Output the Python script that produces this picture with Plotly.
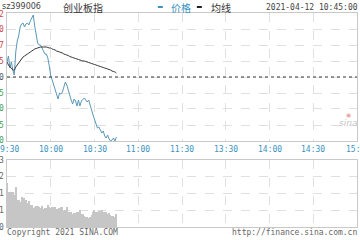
import plotly.graph_objects as go

# ---------------- data ----------------
prev_close = 2710.00
minutes = list(range(76))  # minutes since 09:30
price = [2723.46, 2728.84, 2718.07, 2723.46, 2716.28, 2711.79, 2732.43, 2742.29, 2746.78, 2754.85,
         2757.54, 2758.44, 2754.85, 2757.54, 2758.44, 2756.64, 2760.23, 2762.92, 2765.61, 2755.75,
         2746.78, 2740.50, 2738.70, 2738.70, 2736.01, 2733.32, 2730.63, 2730.63, 2727.04, 2719.87,
         2710.90, 2707.31, 2702.82, 2698.34, 2692.96, 2690.27, 2695.65, 2694.75, 2696.54, 2701.93,
         2705.51, 2702.82, 2697.44, 2692.96, 2689.37, 2685.78, 2690.27, 2688.47, 2683.99, 2689.37,
         2683.99, 2688.47, 2690.27, 2691.16, 2689.37, 2687.57, 2689.37, 2685.78, 2680.40, 2675.91,
         2671.43, 2666.94, 2664.25, 2665.15, 2662.46, 2659.77, 2661.56, 2657.08, 2655.28, 2657.97,
         2654.39, 2652.59, 2653.49, 2655.28, 2652.59, 2656.18]
avg_line = [2723.46, 2720.76, 2718.97, 2718.07, 2716.28, 2716.28, 2718.97, 2720.76, 2722.56, 2724.35,
            2726.15, 2727.94, 2728.84, 2729.73, 2730.63, 2731.53, 2732.43, 2733.32, 2734.22, 2735.12,
            2735.56, 2736.01, 2736.46, 2736.91, 2736.91, 2736.91, 2736.91, 2736.91, 2736.46, 2736.01,
            2736.01, 2735.12, 2734.67, 2734.22, 2733.32, 2732.87, 2732.43, 2731.98, 2731.53, 2730.63,
            2730.18, 2729.73, 2729.29, 2728.39, 2727.94, 2727.49, 2727.04, 2726.59, 2726.15, 2725.70,
            2725.25, 2724.80, 2724.35, 2724.35, 2723.90, 2723.46, 2723.01, 2722.56, 2722.11, 2721.66,
            2721.21, 2720.76, 2720.32, 2719.87, 2719.42, 2718.97, 2718.52, 2718.07, 2717.62, 2717.17,
            2716.73, 2716.28, 2715.38, 2714.93, 2714.49, 2713.59]
volume = [921, 733, 733, 733, 733, 670, 838, 565, 565, 524,
          628, 461, 607, 565, 503, 544, 461, 461, 398, 419,
          440, 440, 419, 398, 440, 377, 398, 398, 461, 419,
          398, 419, 419, 419, 377, 377, 398, 419, 419, 335,
          356, 419, 314, 314, 314, 272, 293, 293, 314, 314,
          356, 272, 272, 230, 209, 209, 188, 209, 251, 314,
          356, 314, 314, 335, 335, 356, 314, 314, 314, 272,
          293, 251, 230, 230, 209, 272]

tick_minutes = [0, 30, 60, 90, 120, 150, 180, 210, 240]
tick_labels = ["9:30", "10:00", "10:30", "11:00", "11:30", "13:30", "14:00", "14:30", "15:"]
price_ticks = [2767.41, 2753.06, 2738.70, 2724.35, 2710.00, 2695.65, 2681.30, 2666.94, 2652.59]
price_tick_text = ["2", "0", "7", "5", "0", "5", "0", "5", "0"]   # only the visible last digits
vol_ticks = [1403, 1052, 701, 351, 0]
vol_tick_text = ["3", "2", "1", "1", "0"]

# ---------------- figure ----------------
W, H = 360, 240
ML, MR, MT, MB = 7.3, 3, 13, 13
PW, PH = W - ML - MR, H - MT - MB


def px(x):
    return (x - ML) / PW


def py(y):
    return (H - MB - y) / PH


top_dom = [py(141), 1.0]
vol_dom = [0.0, py(160)]

fig = go.Figure()

fig.add_trace(go.Scatter(x=minutes, y=price, mode="lines",
                         line=dict(color="#5a98b8", width=1), xaxis="x", yaxis="y",
                         cliponaxis=False, hoverinfo="skip"))
fig.add_trace(go.Scatter(x=minutes, y=avg_line, mode="lines",
                         line=dict(color="#333333", width=1, shape="spline"), xaxis="x", yaxis="y",
                         hoverinfo="skip"))
fig.add_trace(go.Bar(x=minutes, y=volume, marker=dict(color="#c6c6c6", line=dict(width=0)),
                     xaxis="x2", yaxis="y2", width=0.75, hoverinfo="skip"))

grid_color = "#e0e0e0"
frame_color = "#c8c8c8"
mono = "DejaVu Sans Mono"

common_x = dict(range=[0, 240], tickvals=tick_minutes, showgrid=True, gridcolor=grid_color,
                griddash="dash", gridwidth=1, zeroline=False, showline=True, linecolor=frame_color,
                mirror=True, ticks="")

fig.update_layout(
    width=W, height=H,
    margin=dict(l=ML, r=MR, t=MT, b=MB, pad=0),
    paper_bgcolor="white", plot_bgcolor="white",
    showlegend=False, bargap=0,
    xaxis=dict(common_x, domain=[0, 1], anchor="y", showticklabels=False),
    yaxis=dict(domain=top_dom, range=[price_ticks[-1], price_ticks[0]], tickvals=price_ticks,
               showticklabels=False, showgrid=True, gridcolor=grid_color, griddash="dash",
               zeroline=False, showline=True, linecolor=frame_color, mirror=True, anchor="x"),
    xaxis2=dict(common_x, domain=[0, 1], anchor="y2", showticklabels=False),
    yaxis2=dict(domain=vol_dom, range=[0, vol_ticks[0]], tickvals=vol_ticks,
                showticklabels=False, showgrid=True, gridcolor=grid_color, griddash="dash",
                zeroline=False, showline=True, linecolor=frame_color, mirror=True, anchor="x2"),
)

# previous close dashed baseline
fig.add_shape(type="line", xref="x", yref="y", x0=0, x1=240, y0=prev_close, y1=prev_close,
              line=dict(color="#333333", width=1, dash="dot"))

annotations = []
# time labels
for i, (m, t) in enumerate(zip(tick_minutes, tick_labels)):
    if i == 0:
        xa, xs = "left", -8
    elif i == len(tick_minutes) - 1:
        xa, xs = "right", 4
    else:
        xa, xs = "center", 0
    annotations.append(dict(xref="x", yref="paper", x=m, y=py(149), xanchor=xa, yanchor="middle",
                            xshift=xs, text=t, showarrow=False, borderpad=0,
                            font=dict(family=mono, size=8, color="#3a93c0")))
# price axis labels
n = len(price_ticks)
for i, (v, t) in enumerate(zip(price_ticks, price_tick_text)):
    if v > prev_close + 0.01:
        c = "#d04848"
    elif v < prev_close - 0.01:
        c = "#4aa04a"
    else:
        c = "#555555"
    ys = -1 if i == 0 else (1 if i == n - 1 else 0)
    annotations.append(dict(xref="paper", yref="y", x=px(0), y=v, xanchor="left", yanchor="middle",
                            xshift=-2, yshift=ys, text=t, showarrow=False, borderpad=0,
                            font=dict(family=mono, size=8, color=c)))
for v, t in zip(vol_ticks, vol_tick_text):
    annotations.append(dict(xref="paper", yref="y2", x=px(0), y=v, xanchor="left", yanchor="middle",
                            xshift=-2, text=t, showarrow=False, borderpad=0,
                            font=dict(family=mono, size=8, color="#666666")))

# header texts
annotations += [
    dict(xref="paper", yref="paper", x=px(1), y=py(6), xanchor="left", yanchor="middle",
         text="sz399006", showarrow=False, borderpad=0,
         font=dict(family="DejaVu Sans", size=8, color="#444444")),
    dict(xref="paper", yref="paper", x=px(61), y=py(7), xanchor="left", yanchor="middle",
         text="创业板指", showarrow=False, font=dict(family="Noto Sans CJK SC", size=10, color="#333333")),
    dict(xref="paper", yref="paper", x=px(169), y=py(7), xanchor="left", yanchor="middle",
         text="价格", showarrow=False, font=dict(family="Noto Sans CJK SC", size=10, color="#3a93c0")),
    dict(xref="paper", yref="paper", x=px(209), y=py(7), xanchor="left", yanchor="middle",
         text="均线", showarrow=False, font=dict(family="Noto Sans CJK SC", size=10, color="#333333")),
    dict(xref="paper", yref="paper", x=px(360), y=py(7), xanchor="right", yanchor="middle",
         text="2021-04-12 10:45:00", showarrow=False, font=dict(family=mono, size=8, color="#444444")),
    dict(xref="paper", yref="paper", x=px(5), y=py(232), xanchor="left", yanchor="middle",
         text="Copyright 2021 SINA.COM", showarrow=False, font=dict(family=mono, size=8, color="#666666")),
    dict(xref="paper", yref="paper", x=px(359), y=py(232), xanchor="right", yanchor="middle",
         text="http://finance.sina.com.cn", showarrow=False, font=dict(family=mono, size=8, color="#666666")),
    dict(xref="paper", yref="paper", x=px(348), y=py(123), xanchor="center", yanchor="middle",
         text="<i>sina</i>", showarrow=False, font=dict(family="DejaVu Sans", size=9, color="#c8c8c8")),
    dict(xref="paper", yref="paper", x=px(349), y=py(114), xanchor="center", yanchor="middle",
         text="◉", showarrow=False, font=dict(family="DejaVu Sans", size=6, color="#e8a0a0")),
]
fig.update_layout(annotations=annotations)

# legend dashes
for x0, col in [(158, "#3a93c0"), (197, "#222222")]:
    fig.add_shape(type="line", xref="paper", yref="paper", x0=px(x0), x1=px(x0 + 5),
                  y0=py(7), y1=py(7), line=dict(color=col, width=2))

fig.write_html("out.html")
